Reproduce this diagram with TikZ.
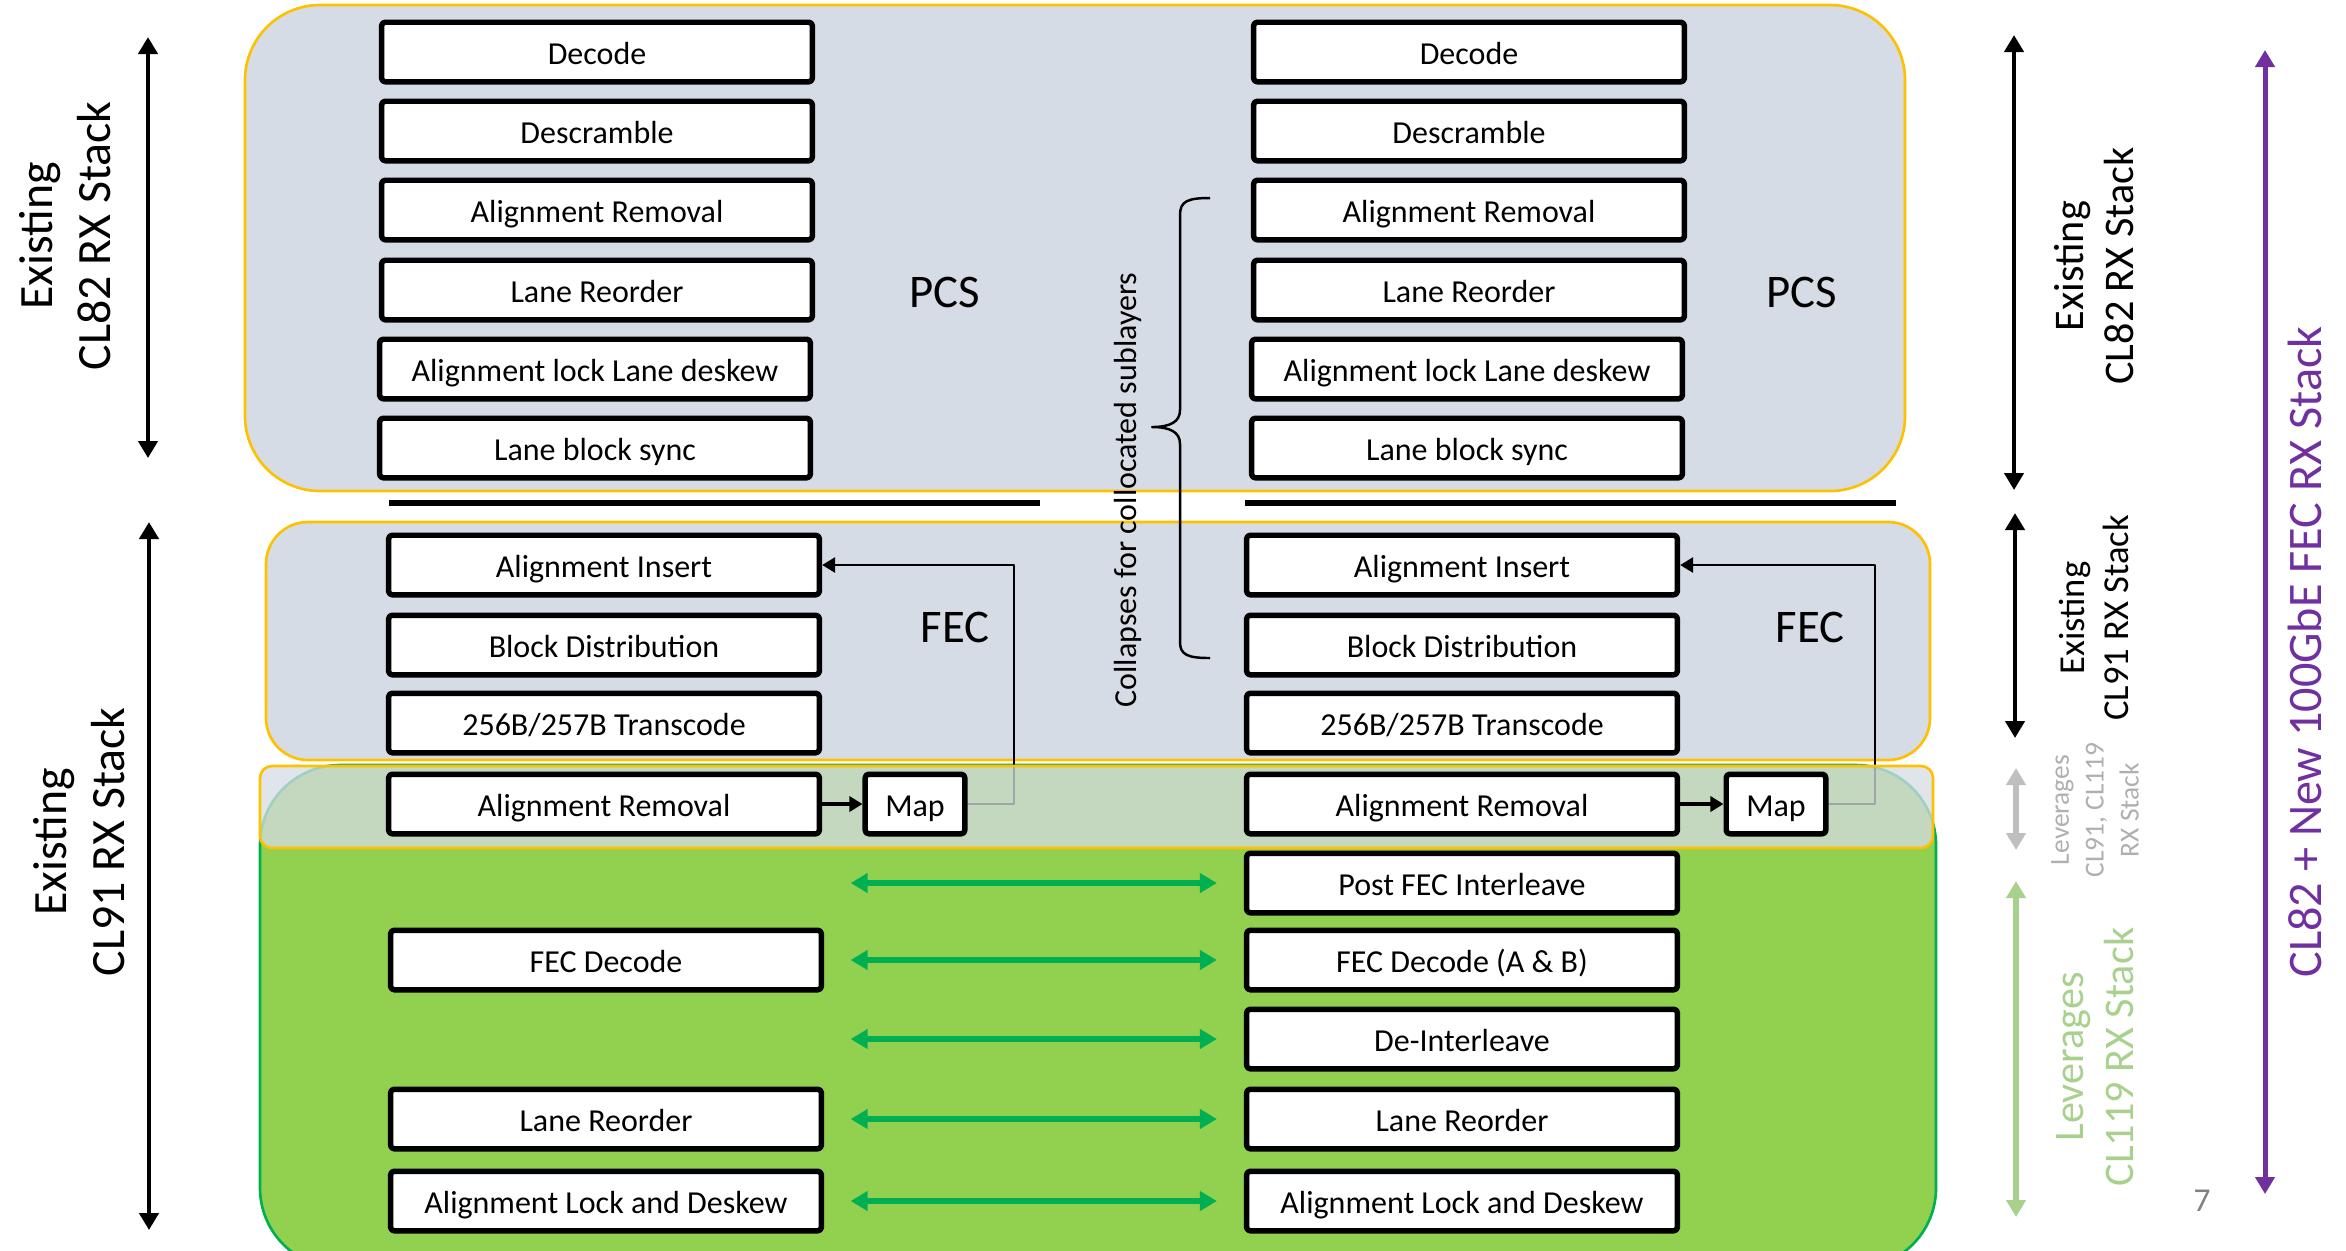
\documentclass[tikz,border=0pt]{standalone}
\usepackage{fontspec}
\setmainfont{Carlito}
\usetikzlibrary{arrows.meta}

\definecolor{layergray}{HTML}{D6DCE5}
\definecolor{frameorange}{HTML}{FFC000}
\definecolor{fecgreen}{HTML}{92D050}
\definecolor{linkgreen}{HTML}{00B050}
\definecolor{palegreen}{HTML}{A9D18E}
\definecolor{palegray}{HTML}{BFBFBF}
\definecolor{textgray}{HTML}{AFAFAF}
\definecolor{stackpurple}{HTML}{7030A0}

\begin{document}
\begin{tikzpicture}[x=0.01cm, y=-0.01cm, line join=round,
	font=\fontsize{9.1}{11}\selectfont,
	>={Triangle[length=0.17cm,width=0.19cm]},
	layer/.style={draw, line width=1.56pt, fill=white, rounded corners=1pt,
		minimum width=4.305cm, minimum height=0.595cm, inner sep=0pt,
		text height=0.7em, text depth=0pt},
	mapbox/.style={layer, minimum width=0.995cm},
	sublabel/.style={font=\fontsize{13.3}{16}\selectfont},
	side/.style={rotate=90, align=center, inner sep=0pt},
	block/.style={draw=frameorange, line width=0.75pt}]
	\useasboundingbox (0,0) rectangle (2346,1250);
	%%%%%%%%%%%%%%%%%%%%%%%%%%%%%%%%%
	\coordinate (P1) at (148,37);
	\coordinate (P2) at (148,458);
	\coordinate (Q1) at (149,522);
	\coordinate (Q2) at (149,1230);
	\coordinate (R1) at (2014,35);
	\coordinate (R2) at (2014,490);
	\coordinate (S1) at (2015,513);
	\coordinate (S2) at (2015,738);
	\coordinate (T1) at (2016,768);
	\coordinate (T2) at (2016,850);
	\coordinate (U1) at (2016,881);
	\coordinate (U2) at (2016,1217);
	\coordinate (V1) at (2265,50);
	\coordinate (V2) at (2265,1194);
	%%%%%%%%%%%%%%%%%%%%%%%%%%%%%%%%%
	% sublayer backgrounds
	\filldraw[block, fill=layergray, rounded corners=0.75cm] (245,5) rectangle (1905,491);
	\filldraw[block, fill=layergray, rounded corners=0.42cm] (266,522) rectangle (1930,760);
	\filldraw[fill=fecgreen, draw=linkgreen, line width=0.75pt, rounded corners=0.8cm] (260,765) rectangle (1936,1268);
	\draw[line width=1.6pt] (389,503) -- (1040,503);
	\draw[line width=1.6pt] (1245,503) -- (1896,503);
	%%%%%%%%%%%%%%%%%%%%%%%%%%%%%%%%%
	% PCS
	\node[layer] (decL) at (597,52) {Decode};
	\node[layer] (dscL) at (597,131) {Descramble};
	\node[layer] (armL) at (597,210) {Alignment Removal};
	\node[layer] (lroL) at (597,290) {Lane Reorder};
	\node[layer] (alkL) at (595,369) {Alignment lock Lane deskew};
	\node[layer] (lbsL) at (595,448) {Lane block sync};
	\node[layer] (decR) at (1469,52) {Decode};
	\node[layer] (dscR) at (1469,131) {Descramble};
	\node[layer] (armR) at (1469,210) {Alignment Removal};
	\node[layer] (lroR) at (1469,290) {Lane Reorder};
	\node[layer] (alkR) at (1467,369) {Alignment lock Lane deskew};
	\node[layer] (lbsR) at (1467,448) {Lane block sync};
	\node[sublabel] (pcsL) at (945,292) {PCS};
	\node[sublabel] (pcsR) at (1802,292) {PCS};
	%%%%%%%%%%%%%%%%%%%%%%%%%%%%%%%%%
	% FEC
	\node[layer] (ainL) at (604,565) {Alignment Insert};
	\node[layer] (bdiL) at (604,645) {Block Distribution};
	\node[layer] (tcdL) at (604,723) {256B/257B Transcode};
	\node[layer] (ainR) at (1462,565) {Alignment Insert};
	\node[layer] (bdiR) at (1462,645) {Block Distribution};
	\node[layer] (tcdR) at (1462,723) {256B/257B Transcode};
	\node[sublabel] (fecL) at (955,627) {FEC};
	\node[sublabel] (fecR) at (1810,627) {FEC};
	\coordinate (mapL) at (915,804);
	\coordinate (mapR) at (1776,804);
	\draw[line width=0.8pt, -{Triangle[length=0.13cm,width=0.15cm]}] (mapL) ++(52,0) -- ++(47,0) |- (ainL.east);
	\draw[line width=0.8pt, -{Triangle[length=0.13cm,width=0.15cm]}] (mapR) ++(52,0) -- ++(47,0) |- (ainR.east);
	\filldraw[block, fill=layergray, fill opacity=0.75, rounded corners=0.12cm] (260,766) rectangle (1933,848);
	\node[layer] (arfL) at (604,804) {Alignment Removal};
	\node[mapbox] (map1) at (mapL) {Map};
	\node[layer] (arfR) at (1462,804) {Alignment Removal};
	\node[mapbox] (map2) at (mapR) {Map};
	\draw[line width=0.9pt, -{Triangle[length=0.13cm,width=0.15cm]}] (arfL) -- (map1);
	\draw[line width=0.9pt, -{Triangle[length=0.13cm,width=0.15cm]}] (arfR) -- (map2);
	%%%%%%%%%%%%%%%%%%%%%%%%%%%%%%%%%
	% CL119 part
	\node[layer] (fdcL) at (606,960) {FEC Decode};
	\node[layer] (lrtL) at (606,1119) {Lane Reorder};
	\node[layer] (aldL) at (606,1201) {Alignment Lock and Deskew};
	\node[layer] (pfiR) at (1462,883) {Post FEC Interleave};
	\node[layer] (fdcR) at (1462,960) {FEC Decode (A \& B)};
	\node[layer] (dilR) at (1462,1039) {De-Interleave};
	\node[layer] (lrtR) at (1462,1119) {Lane Reorder};
	\node[layer] (aldR) at (1462,1201) {Alignment Lock and Deskew};
	\foreach \n in {pfiR,fdcR,dilR,lrtR,aldR}
		\draw[<->, linkgreen, line width=1.5pt] ([xshift=-3.93cm]\n.west) -- ([xshift=-0.27cm]\n.west);
	%%%%%%%%%%%%%%%%%%%%%%%%%%%%%%%%%
	% collapsing brace
	\draw[line width=0.7pt] (1210,198) .. controls (1188,198) and (1180,201) .. (1180,215) -- (1180,410)
		.. controls (1180,422) and (1170,427) .. (1152,427) .. controls (1170,427) and (1180,432) .. (1180,444)
		-- (1180,642) .. controls (1180,655) and (1188,658) .. (1210,658);
	\node[side] (coll) at (1128,490) {Collapses for collocated sublayers};
	%%%%%%%%%%%%%%%%%%%%%%%%%%%%%%%%%
	% stack spans
	\draw[<->, line width=1.4pt] (P1) -- (P2);
	\draw[<->, line width=1.4pt] (Q1) -- (Q2);
	\draw[<->, line width=1.2pt] (R1) -- (R2);
	\draw[<->, line width=1.2pt] (S1) -- (S2);
	\draw[<->, palegray, line width=1.7pt] (T1) -- (T2);
	\draw[<->, palegreen, line width=1.7pt] (U1) -- (U2);
	\draw[<->, stackpurple, line width=1.4pt] (V1) -- (V2);
	\node[side, font=\fontsize{13.6}{16.3}\selectfont] (cl82L) at (65,236) {Existing\\CL82 RX Stack};
	\node[side, font=\fontsize{13.6}{16.3}\selectfont] (cl91L) at (79,842) {Existing\\CL91 RX Stack};
	\node[side, font=\fontsize{12}{14.4}\selectfont] (cl82R) at (2094,266) {Existing\\CL82 RX Stack};
	\node[side, font=\fontsize{10.4}{12.5}\selectfont] (cl91R) at (2094,618) {Existing\\CL91 RX Stack};
	\node[side, textgray, font=\fontsize{7.8}{9.9}\selectfont] (levA) at (2095,810) {Leverages\\CL91, CL119\\RX Stack};
	\node[side, palegreen, font=\fontsize{12}{14}\selectfont] (levB) at (2095,1057) {Leverages\\CL119 RX Stack};
	\node[side, stackpurple, font=\fontsize{13.7}{16}\selectfont] (newst) at (2305,652) {CL82 + New 100GbE FEC RX Stack};
	\node[gray, font=\fontsize{9.5}{11}\selectfont] (page) at (2202,1201) {7};
\end{tikzpicture}
\end{document}
